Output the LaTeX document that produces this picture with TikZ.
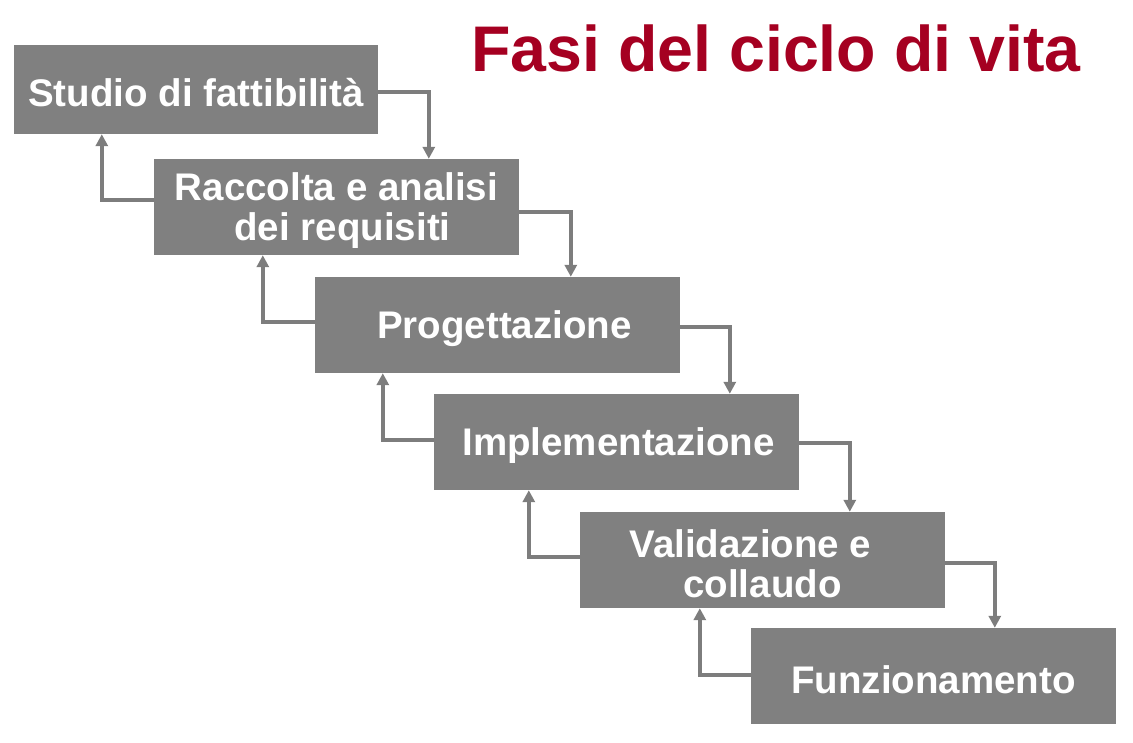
\documentclass[tikz,border=0pt]{standalone}
\usepackage{fontspec}
\setmainfont{Liberation Sans}
\usetikzlibrary{arrows.meta}
\definecolor{boxgray}{RGB}{128,128,128}
\definecolor{arrgray}{RGB}{125,125,125}
\definecolor{titlered}{RGB}{165,0,33}
\begin{document}
\begin{tikzpicture}[x=1pt,y=-1pt,
  phase/.style={fill=boxgray, draw=none, inner sep=0pt, minimum width=365pt, minimum height=96pt},
  lbl/.style={inner sep=0pt, text=white, font=\bfseries\fontsize{38.5}{40}\selectfont, align=center},
  arr/.style={draw=arrgray, line width=3.4pt, -{Triangle[width=12pt,length=12pt]}}]
\useasboundingbox (0,0) rectangle (1133,743);
\node[anchor=base west, text=titlered, font=\bfseries\fontsize{64.5}{70}\selectfont, inner sep=0pt] (title) at (471,72) {Fasi del ciclo di vita};
\node[phase, minimum width=364pt, minimum height=89pt] (b1) at (196,89.5) {};
\node[phase] (b2) at (336.5,207) {};
\node[phase] (b3) at (497.5,325) {};
\node[phase] (b4) at (616.5,442) {};
\node[phase] (b5) at (762.5,560) {};
\node[phase] (b6) at (933.5,676) {};
\node[lbl] (t1) at ([yshift=-3pt]b1.center) {Studio di fattibilità};
\node[lbl] (t2) at ([yshift=-4pt]b2.center) {Raccolta e analisi\\\hspace*{12pt}dei requisiti};
\node[lbl] (t3) at ([yshift=-4pt]b3.center) {\hspace*{14pt}Progettazione};
\node[lbl] (t4) at ([yshift=-4pt]b4.center) {\hspace*{4pt}Implementazione};
\node[lbl] (t5) at ([yshift=-4pt]b5.center) {Validazione e\hspace*{24pt}\\collaudo};
\node[lbl] (t6) at ([yshift=-4pt]b6.center) {Funzionamento};
% forward arrows
\draw[arr] ([yshift=-2.5pt]b1.east) -| ([xshift=275pt]b2.north west);
\draw[arr] ([yshift=-5pt]b2.east) -| ([xshift=256pt]b3.north west);
\draw[arr] ([yshift=-2pt]b3.east) -| ([xshift=296pt]b4.north west);
\draw[arr] ([yshift=-1pt]b4.east) -| ([xshift=270pt]b5.north west);
\draw[arr] ([yshift=-3pt]b5.east) -| ([xshift=244pt]b6.north west);
% backward arrows
\draw[arr] ([yshift=7pt]b2.west) -| ([xshift=88pt]b1.south west);
\draw[arr] ([yshift=3pt]b3.west) -| ([xshift=109pt]b2.south west);
\draw[arr] ([yshift=2pt]b4.west) -| ([xshift=68pt]b3.south west);
\draw[arr] ([yshift=3pt]b5.west) -| ([xshift=95pt]b4.south west);
\draw[arr] ([yshift=1pt]b6.west) -| ([xshift=120pt]b5.south west);
\end{tikzpicture}
\end{document}
